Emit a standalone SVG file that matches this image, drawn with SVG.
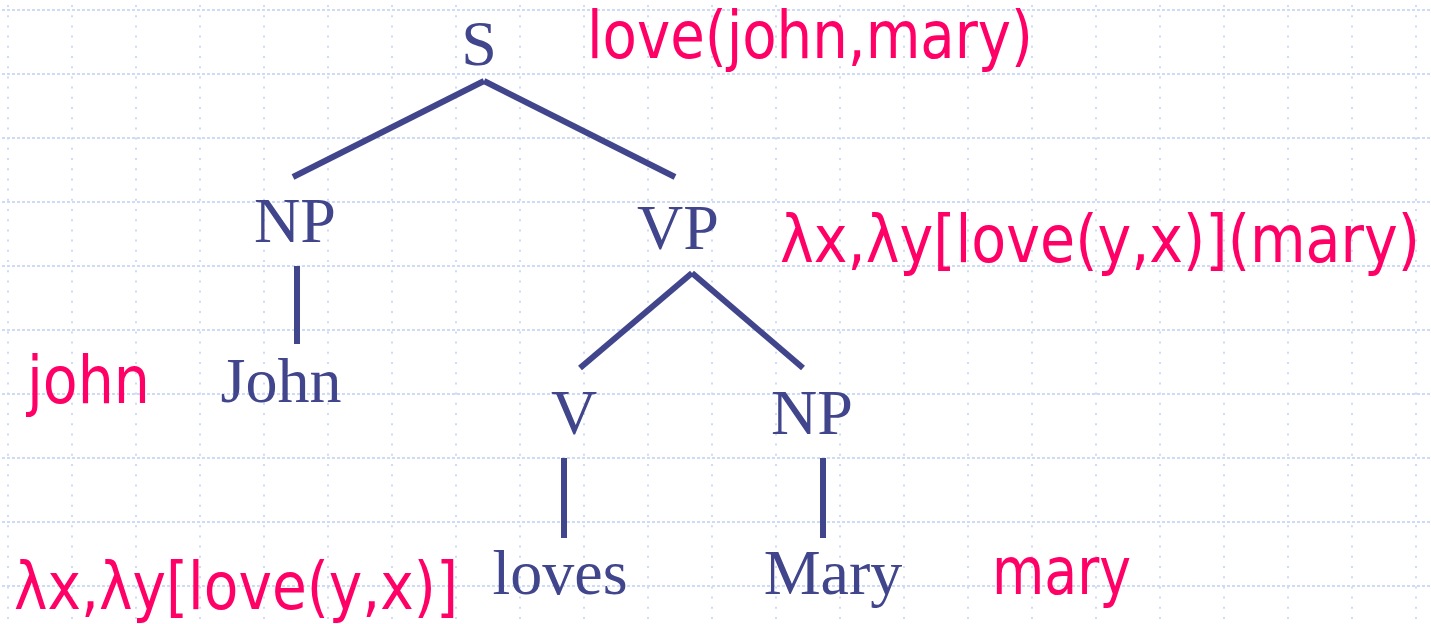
<svg xmlns="http://www.w3.org/2000/svg" width="1431" height="624" viewBox="0 0 1431 624">
<style>
.hg{stroke:#cddbf8;stroke-width:2;stroke-dasharray:3 2;fill:none}
.vg{stroke:#cddbf8;stroke-width:2;stroke-dasharray:2 8.2;fill:none}
.edge{stroke:#40458c;stroke-width:6;stroke-linecap:butt;fill:none}
.t{font-family:"Liberation Serif","Times New Roman",serif;font-size:64px;fill:#40458c;text-anchor:middle}
.r{font-family:"DejaVu Sans Condensed","DejaVu Sans",sans-serif;font-stretch:condensed;font-size:66px;fill:#ff0066}
</style>
<rect width="1431" height="624" fill="#ffffff"/>
<g id="grid">
<path class="hg" d="M2 10H1431M2 74H1431M2 138H1431M2 202H1431M2 266H1431M2 330H1431M2 394H1431M2 458H1431M2 522H1431M2 586H1431"/>
<path class="vg" d="M8 5V624M72 5V624M136 5V624M200 5V624M264 5V624M328 5V624M392 5V624M456 5V624M520 5V624M584 5V624M648 5V624M712 5V624M776 5V624M840 5V624M904 5V624M968 5V624M1032 5V624M1096 5V624M1160 5V624M1224 5V624M1288 5V624M1352 5V624M1416 5V624"/>
</g>
<g id="connectors">
<line class="edge" x1="484" y1="81" x2="293" y2="177"/>
<line class="edge" x1="484" y1="81" x2="675" y2="177"/>
<line class="edge" x1="297" y1="266" x2="297" y2="344"/>
<line class="edge" x1="692" y1="273" x2="580" y2="368"/>
<line class="edge" x1="692" y1="273" x2="803" y2="368"/>
<line class="edge" x1="564" y1="458" x2="564" y2="538"/>
<line class="edge" x1="823" y1="458" x2="823" y2="538"/>
</g>
<g id="node-S"><text class="t" x="479" y="65">S</text></g>
<g id="node-NP1"><text class="t" x="295" y="242">NP</text></g>
<g id="node-VP"><text class="t" x="678" y="249">VP</text></g>
<g id="node-John"><text class="t" x="281" y="402">John</text></g>
<g id="node-V"><text class="t" x="574" y="434">V</text></g>
<g id="node-NP2"><text class="t" x="812" y="434">NP</text></g>
<g id="node-loves"><text class="t" x="560" y="594">loves</text></g>
<g id="node-Mary"><text class="t" x="833" y="594">Mary</text></g>
<g id="sem-S"><text class="r" x="587" y="58" textLength="446" lengthAdjust="spacingAndGlyphs">love(john,mary)</text></g>
<g id="sem-VP"><text class="r" x="780" y="262" textLength="640" lengthAdjust="spacingAndGlyphs">λx,λy[love(y,x)](mary)</text></g>
<g id="sem-john"><text class="r" x="27" y="403" textLength="123" lengthAdjust="spacingAndGlyphs">john</text></g>
<g id="sem-loves"><text class="r" x="14" y="609" textLength="444" lengthAdjust="spacingAndGlyphs">λx,λy[love(y,x)]</text></g>
<g id="sem-mary"><text class="r" x="992" y="594" textLength="139" lengthAdjust="spacingAndGlyphs">mary</text></g>
</svg>
